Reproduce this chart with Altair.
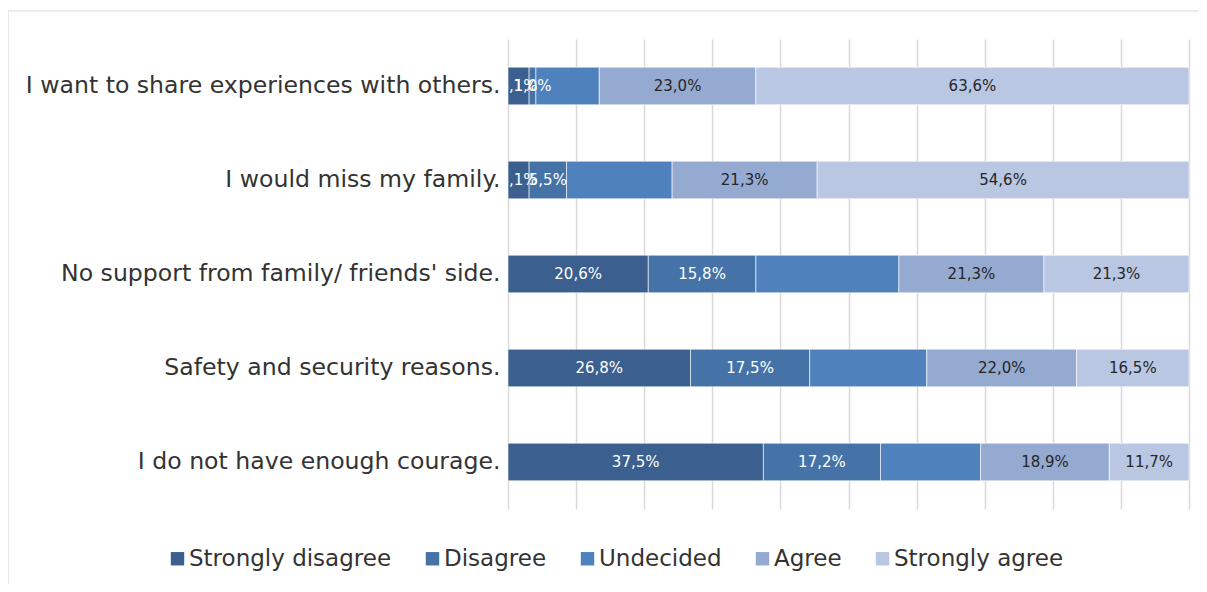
import altair as alt
import pandas as pd

questions = [
    "I want to share experiences with others.",
    "I would miss my family.",
    "No support from family/ friends' side.",
    "Safety and security reasons.",
    "I do not have enough courage.",
]
categories = ["Strongly disagree", "Disagree", "Undecided", "Agree", "Strongly agree"]
colors = ["#3B5F8E", "#4573A8", "#4F81BD", "#95AAD1", "#BAC7E2"]

strongly_disagree = [3.1, 3.1, 20.6, 26.8, 37.5]
disagree = [1.0, 5.5, 15.8, 17.5, 17.2]
undecided = [9.3, 15.5, 21.0, 17.2, 14.7]
agree = [23.0, 21.3, 21.3, 22.0, 18.9]
strongly_agree = [63.6, 54.6, 21.3, 16.5, 11.7]

series = [strongly_disagree, disagree, undecided, agree, strongly_agree]
rows = []
for ci, (cat, vals) in enumerate(zip(categories, series)):
    for q, v in zip(questions, vals):
        rows.append({
            "question": q,
            "category": cat,
            "order": ci,
            "value": v,
            "label": f"{v:.1f}%".replace(".", ","),
        })
df = pd.DataFrame(rows)

FONT = "DejaVu Sans"
TEXT = "#333333"

base = alt.Chart(df).transform_stack(
    stack="value",
    groupby=["question"],
    sort=[alt.SortField("order", order="ascending")],
    as_=["x0", "x1"],
    offset="normalize",
).transform_calculate(mid="(datum.x0 + datum.x1) / 2")

yenc = alt.Y(
    "question:N",
    sort=questions,
    scale=alt.Scale(paddingInner=0.6, paddingOuter=0.3),
    axis=alt.Axis(
        title=None, domain=False, ticks=False, labelPadding=8,
        labelFont=FONT, labelFontSize=23.6, labelColor=TEXT, labelLimit=700,
    ),
)

bars = base.mark_bar(stroke="white", strokeWidth=0.6).encode(
    x=alt.X(
        "x0:Q",
        scale=alt.Scale(domain=[0, 1], nice=False),
        axis=alt.Axis(
            title=None, labels=False, ticks=False, domain=False,
            values=[i / 10 for i in range(11)],
            gridColor="#D9D9D9", gridWidth=1.5,
        ),
    ),
    x2="x1:Q",
    y=yenc,
    color=alt.Color(
        "category:N",
        sort=categories,
        scale=alt.Scale(domain=categories, range=colors),
        legend=alt.Legend(
            title=None, orient="none", direction="horizontal",
            legendX=-342, legendY=508,
            symbolType="square", symbolSize=180, symbolStrokeWidth=0,
            labelFont=FONT, labelFontSize=23, labelColor=TEXT, labelLimit=400,
            labelOffset=0, columnPadding=29,
        ),
    ),
    order=alt.Order("order:Q"),
)

white_text = base.transform_filter(
    alt.FieldOneOfPredicate(field="category", oneOf=["Strongly disagree", "Disagree"])
).mark_text(font=FONT, fontSize=15, color="white", clip=True).encode(
    x=alt.X("mid:Q"), y=alt.Y("question:N", sort=questions), text="label:N"
)

dark_text = base.transform_filter(
    alt.FieldOneOfPredicate(field="category", oneOf=["Agree", "Strongly agree"])
).mark_text(font=FONT, fontSize=15, color="#262626", clip=True).encode(
    x=alt.X("mid:Q"), y=alt.Y("question:N", sort=questions), text="label:N"
)

frame_df = pd.DataFrame({"title": ["Reasons behind refuse of solo travel"]})
frame = alt.Chart(frame_df).mark_rect(
    fillOpacity=0, stroke="#D9D9D9", strokeWidth=1.2
).encode(
    x=alt.value(-500), x2=alt.value(760), y=alt.value(-28), y2=alt.value(620)
)
title = alt.Chart(frame_df).mark_text(
    font=FONT, fontSize=26, color=TEXT, align="left", baseline="alphabetic"
).encode(x=alt.value(-509), y=alt.value(-33), text="title:N")

chart = alt.layer(frame, title, bars, white_text, dark_text).properties(
    width=681,
    height=470,
    autosize=alt.AutoSizeParams(type="none"),
    padding={"left": 500, "top": 31, "right": 10, "bottom": 75},
).configure_view(strokeWidth=0)

chart.save("out.html", embed_options={"renderer": "svg", "actions": False})
